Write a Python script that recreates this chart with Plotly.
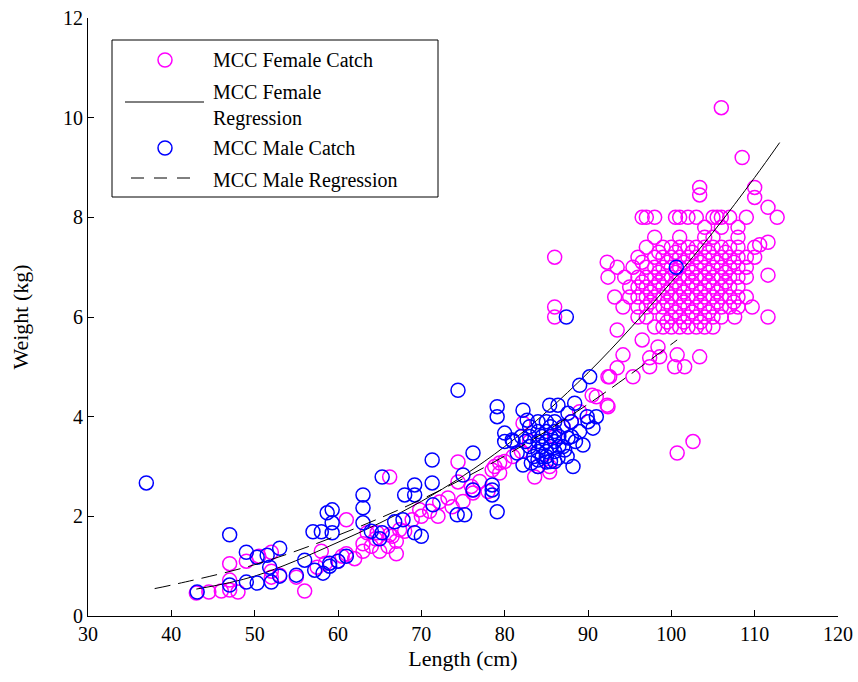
import plotly.graph_objects as go

# ---------------- data ----------------
# Female catch, dense cluster rows: weight -> lengths
fem_rows_w = [8.0, 7.8, 7.6, 7.4, 7.2, 7.0, 6.8, 6.6, 6.4, 6.2, 6.0, 5.8]
fem_rows_l = [
    [97, 98, 101, 102, 103, 105, 106, 107, 109],
    [104, 106, 108],
    [98, 101, 104, 105, 108],
    [97, 99, 100, 101, 102, 103, 104, 105, 106, 107, 108, 110],
    [96, 98, 99, 100, 101, 102, 103, 104, 105, 106, 107, 108, 109, 110],
    [97, 98, 99, 100, 101, 102, 103, 104, 105, 106, 107, 108, 109],
    [96, 97, 98, 99, 100, 101, 102, 103, 104, 105, 106, 107, 108, 109],
    [95, 96, 97, 98, 99, 100, 101, 102, 103, 104, 105, 106, 107, 108],
    [95, 96, 97, 98, 99, 100, 101, 102, 103, 104, 105, 106, 107, 108, 109],
    [96, 97, 98, 99, 100, 101, 102, 103, 104, 105, 106, 107, 108],
    [96, 97, 99, 100, 101, 102, 103, 104, 105, 106],
    [98, 99, 100, 101, 102, 103, 104, 105],
]
# extra offset cluster points
fem_half_l = [96.5, 99.5, 101.5, 103.5, 105.5, 107.5, 97.5, 99.5, 101.5, 103.5, 105.5,
              98.5, 100.5, 102.5, 104.5, 106.5, 100.5, 102.5, 104.5,
              98.5, 100.5, 102.5, 104.5, 106.5,
              96.5, 98.5, 100.5, 102.5, 104.5, 106.5,
              97.5, 99.5, 101.5, 103.5, 105.5, 107.5,
              99.5, 101.5, 103.5]
fem_half_w = [7.1, 7.1, 7.1, 7.1, 7.1, 7.1, 6.5, 6.5, 6.5, 6.5, 6.5,
              6.9, 6.9, 6.9, 6.9, 6.9, 6.1, 6.1, 6.1,
              7.3, 7.3, 7.3, 7.3, 7.3,
              6.7, 6.7, 6.7, 6.7, 6.7, 6.7,
              6.3, 6.3, 6.3, 6.3, 6.3, 6.3,
              5.9, 5.9, 5.9]

# Female catch, scattered points
fem_l = [43, 44.5, 46, 47, 48, 47, 47, 49, 50.5, 52, 52, 52, 53, 55, 56, 57.5, 58.5, 58,
         60, 60.5, 61, 62, 63, 63, 64, 64.5, 65, 66, 66.5, 67, 67, 68, 61, 63.5, 64.7,
         66.2, 67.4, 68.9, 69.8, 72.2, 73.2, 73.7, 74.4, 74.4, 76.2, 76.2, 66.2,
         70, 71, 72, 75, 76, 77, 78, 78.8, 79.4, 79.4, 78.5, 80, 81, 82, 82.2, 83,
         83.6, 84, 85.4, 85.4, 86, 87, 88, 89, 91, 92.3, 92.6, 92.4, 90.5,
         86, 86, 86,
         93.5, 94.2, 93.5, 92.4, 95.4, 96.5, 98.4, 97.4, 97.4, 98.6, 100.7, 100.4,
         101.6, 103.4, 102.6, 100.7, 107.6, 111.6, 109.7, 92.3, 93.5, 92.4, 94.4,
         95.4, 93.2, 94.2, 111.6, 110.6, 111.6, 106, 108.5, 103.4, 103.4, 110, 110,
         111.6, 112.7, 96.5, 100.5, 105.5]
fem_w = [0.46, 0.48, 0.5, 0.52, 0.48, 0.72, 1.05, 1.1, 1.2, 1.28, 0.9, 0.78, 0.82, 0.78,
         0.5, 0.98, 1.06, 1.3,
         1.1, 1.2, 1.25, 1.15, 1.3, 1.45, 1.4, 1.55, 1.3, 1.4, 1.6, 1.25, 1.5, 1.7, 1.93,
         1.67, 1.67, 1.63, 1.73, 1.93, 2.13, 2.29, 2.37, 2.19, 2.69, 3.09, 2.47, 2.53,
         2.79,
         2.0, 2.1, 2.0, 2.3, 2.6, 2.7, 2.5, 3.0, 3.07, 2.87, 2.93, 3.1, 3.2, 3.3, 3.87,
         3.5, 2.79, 3.0, 3.0, 2.89, 3.6, 3.8, 3.9, 4.1, 4.4, 4.23, 4.8, 4.2, 4.43,
         7.2, 6.2, 6.0,
         5.74, 5.24, 4.98, 4.8, 4.8, 5.54, 5.4, 5.18, 5.0, 5.2, 5.24, 5.0,
         5.0, 5.2, 3.5, 3.27, 6.0, 6.0, 6.2, 7.1, 7.0, 6.8, 6.8,
         7.0, 6.4, 6.2, 6.84, 7.45, 7.5, 10.2, 9.2, 8.6, 8.45, 8.6, 8.4,
         8.2, 8.0, 8.0, 8.0, 8.0]

# Male catch
male_l = [37, 43.1, 47, 47, 49, 49, 50.3, 50.3, 51.5, 51.8, 52, 53, 53, 55, 56, 57, 58,
          58.7, 57.2, 58.2, 59, 59, 60, 61, 59.3, 59.3, 59.3, 63, 63, 63, 64, 65, 65.3,
          65.3, 66.8, 67.8, 68, 69.2, 69.2, 69.2, 70, 71.3, 71.3, 71.4, 74.4, 74.3,
          75.2, 75, 76.2, 76.2, 78.5, 78.5, 78.5, 79.1, 79.1, 79.1,
          80, 80, 80.9, 81.5, 82.2, 83.2, 84, 85, 86.4, 87.2, 87.6, 82.2, 82.7, 85.4,
          86.4, 88.4, 90.2, 89, 87.6, 90.6, 89.9, 89.4, 88.2, 87.4, 100.6,
          83, 83, 83, 84, 84, 84, 84, 84.5, 84.5, 85, 85, 85, 85, 85.5, 85.5, 85.5,
          86, 86, 86, 86, 86.5, 87, 87, 88, 88, 89, 84, 85, 86, 83.5, 82, 81, 82.5,
          87.5, 88.5, 90, 91, 84.5, 85.5, 86.5]
male_w = [2.67, 0.48, 1.63, 0.62, 1.28, 0.68, 1.18, 0.66, 1.22, 0.98, 0.68, 1.36, 0.8,
          0.82, 1.12, 1.69, 1.69, 2.07, 0.92, 0.86, 1.06, 1.0, 1.1, 1.2, 2.13, 1.87,
          1.67, 2.43, 2.17, 1.87, 1.7, 1.55, 2.79, 1.67, 1.89, 1.93, 2.43, 2.63, 2.43,
          1.67, 1.6, 3.13, 2.67, 2.23, 4.53, 2.03, 2.03, 2.83, 3.27, 2.53, 2.63, 2.53,
          2.43, 2.09, 4.2, 4.0,
          3.67, 3.5, 3.53, 3.27, 3.03, 3.07, 3.13, 3.09, 3.17, 3.33, 3.57, 4.13, 3.93,
          4.23, 4.23, 4.27, 4.8, 4.63, 4.07, 3.77, 4.0, 3.43, 3.0, 6.0, 7.0,
          3.4, 3.6, 3.8, 3.3, 3.5, 3.7, 3.9, 3.4, 3.6, 3.3, 3.5, 3.7, 3.9, 3.4, 3.6, 3.8,
          3.3, 3.5, 3.7, 3.9, 3.6, 3.4, 3.8, 3.6, 3.9, 3.7, 3.0, 3.2, 3.1, 3.2, 3.6, 3.5,
          3.5, 3.2, 3.5, 3.9, 4.0, 3.2, 3.1, 3.4]

# Regression curves
fem_reg_l = [43, 50, 60, 70, 80, 90, 100, 105, 110, 113]
fem_reg_w = [0.54, 0.80, 1.48, 2.30, 3.40, 4.88, 6.70, 7.70, 8.80, 9.50]
male_reg_l = [38, 40, 50, 60, 70, 80, 90, 100.7]
male_reg_w = [0.55, 0.62, 1.03, 1.62, 2.34, 3.21, 4.25, 5.54]

# Legend labels
legend_labels = ["MCC Female Catch", "MCC Female<br>Regression",
                 "MCC Male Catch", "MCC Male Regression"]

# ---------------- build ----------------
fx, fy = [], []
for w, ls in zip(fem_rows_w, fem_rows_l):
    for l in ls:
        fx.append(l)
        fy.append(w)
fx += fem_half_l + fem_l
fy += fem_half_w + fem_w

FONT = "Liberation Serif"
MAG = "#FF00FF"
BLU = "#0000FF"

fig = go.Figure()
fig.add_trace(go.Scatter(
    x=fx, y=fy, mode="markers", name=legend_labels[0], showlegend=False,
    marker=dict(symbol="circle-open", size=14, color=MAG,
                line=dict(color=MAG, width=1.5))))
fig.add_trace(go.Scatter(
    x=fem_reg_l, y=fem_reg_w, mode="lines", name=legend_labels[1], showlegend=False,
    line=dict(color="black", width=1, shape="spline")))
fig.add_trace(go.Scatter(
    x=male_l, y=male_w, mode="markers", name=legend_labels[2], showlegend=False,
    marker=dict(symbol="circle-open", size=14, color=BLU,
                line=dict(color=BLU, width=1.5))))
fig.add_trace(go.Scatter(
    x=male_reg_l, y=male_reg_w, mode="lines", name=legend_labels[3], showlegend=False,
    line=dict(color="black", width=1, dash="16px,8px", shape="spline")))

# ---- custom legend (paper coordinates) ----
L, R, T, B = 88, 838, 18, 616


def xp(px):
    return (px - L) / (R - L)


def yp(py):
    return (B - py) / (B - T)


shapes = [
    dict(type="rect", xref="paper", yref="paper", x0=xp(112), x1=xp(438),
         y0=yp(197), y1=yp(40), line=dict(color="black", width=1),
         fillcolor="white", layer="above"),
    dict(type="circle", xref="paper", yref="paper", xsizemode="pixel", ysizemode="pixel",
         xanchor=xp(165), yanchor=yp(60), x0=-7, x1=7, y0=-7, y1=7,
         line=dict(color=MAG, width=1.5), layer="above"),
    dict(type="line", xref="paper", yref="paper", x0=xp(125), x1=xp(204),
         y0=yp(102), y1=yp(102), line=dict(color="black", width=1), layer="above"),
    dict(type="circle", xref="paper", yref="paper", xsizemode="pixel", ysizemode="pixel",
         xanchor=xp(165), yanchor=yp(148), x0=-7, x1=7, y0=-7, y1=7,
         line=dict(color=BLU, width=1.5), layer="above"),
    dict(type="line", xref="paper", yref="paper", x0=xp(131), x1=xp(199),
         y0=yp(178), y1=yp(178), line=dict(color="black", width=1, dash="13px,10px"),
         layer="above"),
]
text_y = [60, 105, 148, 180]
annotations = []
for lab, ty in zip(legend_labels, text_y):
    annotations.append(dict(
        xref="paper", yref="paper", x=xp(211), y=yp(ty), xanchor="left",
        yanchor="middle", text=lab, showarrow=False, align="left",
        font=dict(family=FONT, size=20, color="black")))

axis_common = dict(showgrid=False, zeroline=False, showline=True, linecolor="black",
                   linewidth=1, ticks="inside", ticklen=6, tickcolor="black",
                   tickfont=dict(family=FONT, size=20, color="black"), mirror=False,
                   automargin=False)
fig.update_layout(
    width=858, height=682,
    margin=dict(l=L, r=858 - R, t=T, b=682 - B),
    paper_bgcolor="white", plot_bgcolor="white",
    font=dict(family=FONT, size=20, color="black"),
    xaxis=dict(range=[30, 120], tickvals=list(range(30, 121, 10)),
               title=dict(text="Length (cm)", font=dict(family=FONT, size=22), standoff=6),
               **axis_common),
    yaxis=dict(range=[0, 12], tickvals=list(range(0, 13, 2)),
               title=dict(text="Weight (kg)", font=dict(family=FONT, size=22), standoff=28),
               **axis_common),
    shapes=shapes,
    annotations=annotations,
    showlegend=False,
)
fig.write_html("out.html")
